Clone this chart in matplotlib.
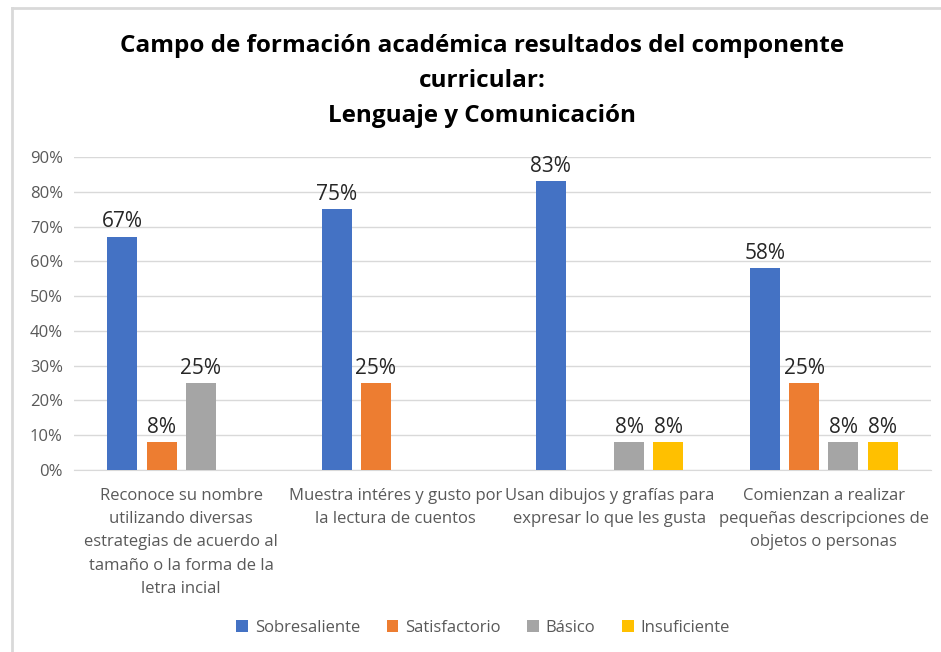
import matplotlib
matplotlib.use("Agg")
import matplotlib.pyplot as plt
from matplotlib.lines import Line2D
from matplotlib.ticker import PercentFormatter

plt.rcParams['font.family'] = ['Open Sans', 'DejaVu Sans']

categories = [
    "Reconoce su nombre\nutilizando diversas\nestrategias de acuerdo al\ntamaño o la forma de la\nletra incial",
    "Muestra intéres y gusto por\nla lectura de cuentos",
    "Usan dibujos y grafías para\nexpresar lo que les gusta",
    "Comienzan a realizar\npequeñas descripciones de\nobjetos o personas",
]
series_names = ["Sobresaliente", "Satisfactorio", "Básico", "Insuficiente"]
sobresaliente = [67, 75, 83, 58]
satisfactorio = [8, 25, None, 25]
basico = [25, None, 8, 8]
insuficiente = [None, None, 8, 8]
series_values = [sobresaliente, satisfactorio, basico, insuficiente]
colors = ["#4472C4", "#ED7D31", "#A5A5A5", "#FFC000"]
yticks = [0, 10, 20, 30, 40, 50, 60, 70, 80, 90]

fig = plt.figure(figsize=(9.41, 6.52), dpi=100)
# chart border (top and left edges visible in the crop)
bx, by = 11.5 / 941, 1 - 8 / 652
fig.add_artist(Line2D([bx, 1.0], [by, by], transform=fig.transFigure,
                      color="#D9D9D9", linewidth=2))
fig.add_artist(Line2D([bx, bx], [0, by], transform=fig.transFigure,
                      color="#D9D9D9", linewidth=2))

ax = fig.add_axes([74/941, 1 - 470/652, 857/941, (470 - 157)/652])
step = 0.183
width = 0.14
for i, (name, vals, c) in enumerate(zip(series_names, series_values, colors)):
    off = (i - 1.5) * step
    xs = [j + off for j, v in enumerate(vals) if v is not None]
    hs = [v / 100 for v in vals if v is not None]
    bars = ax.bar(xs, hs, width=width, color=c, label=name, zorder=3)
    for b, h in zip(bars, hs):
        ax.text(b.get_x() + b.get_width() / 2, h + 0.013, f"{round(h*100)}%",
                ha="center", va="bottom", fontsize=15, color="#262626")

ax.set_xlim(-0.5, len(categories) - 0.5)
ax.set_ylim(0, 0.9)
ax.set_yticks([t / 100 for t in yticks])
ax.yaxis.set_major_formatter(PercentFormatter(1.0, decimals=0))
ax.grid(axis="y", color="#D9D9D9", linewidth=1, zorder=0)
for s in ["top", "right", "left"]:
    ax.spines[s].set_visible(False)
ax.spines["bottom"].set_color("#D9D9D9")
ax.tick_params(axis="y", length=0, labelsize=12, labelcolor="#595959", pad=8)
ax.set_xticks(range(len(categories)))
ax.set_xticklabels(categories, fontsize=12, color="#595959", linespacing=1.6)
ax.tick_params(axis="x", length=0, pad=13)

fig.text(482/941, 1 - 81/652,
         "Campo de formación académica resultados del componente\ncurricular:\nLenguaje y Comunicación",
         ha="center", va="center", fontsize=17.5, fontweight="bold", color="black",
         linespacing=1.6)

leg = fig.legend(loc="center", bbox_to_anchor=(483/941, 1 - 628/652), ncol=4,
                 frameon=False, fontsize=12, handlelength=0.7, handleheight=0.7,
                 columnspacing=1.6, handletextpad=0.4)
for t in leg.get_texts():
    t.set_color("#595959")

fig.savefig("out.png", dpi=100)
